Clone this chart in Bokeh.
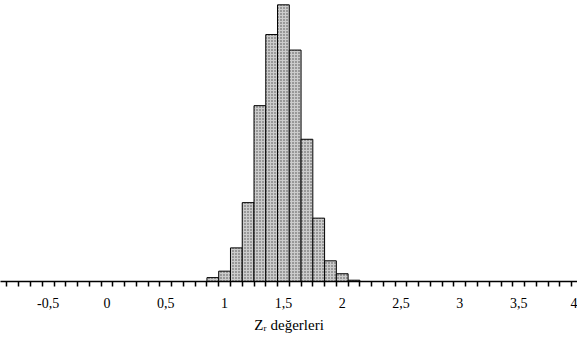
import numpy as np
from bokeh.plotting import figure
from bokeh.models import FixedTicker, CustomJSTickFormatter, Range1d
from bokeh.embed import file_html
from bokeh.resources import INLINE

# Histogram of Zr values (bin centres and frequencies)
bin_centers = [0.9, 1.0, 1.1, 1.2, 1.3, 1.4, 1.5, 1.6, 1.7, 1.8, 1.9, 2.0, 2.1]
frequencies = [3, 8, 26, 61, 136, 191, 214, 179, 110, 49, 16, 6, 1]
bin_width = 0.1

tick_values = [-0.5, 0.0, 0.5, 1.0, 1.5, 2.0, 2.5, 3.0, 3.5, 4.0]
tick_labels = ["-0,5", "0", "0,5", "1", "1,5", "2", "2,5", "3", "3,5", "4"]
axis_title = "Zᵣ değerleri"

x_start, x_end = -0.905, 4.0
edges = [round(v, 2) for v in np.arange(-0.85, 4.1, bin_width)]

p = figure(width=577, height=344, output_backend="svg", toolbar_location=None,
           x_range=Range1d(x_start, x_end), y_range=Range1d(0, max(frequencies) * 1.0156),
           min_border_left=0, min_border_right=0, min_border_top=0, min_border_bottom=63)

p.vbar(x=bin_centers, width=bin_width, top=frequencies, bottom=0,
       fill_color="#cccccc", line_color="black", line_width=1,
       hatch_pattern="dot", hatch_color="#4a4a4a", hatch_scale=3, hatch_weight=1)

p.yaxis.visible = False
p.grid.visible = False
p.outline_line_color = None
p.background_fill_color = "white"
p.border_fill_color = "white"

ax = p.xaxis[0]
ax.ticker = FixedTicker(ticks=tick_values, minor_ticks=edges)
ax.formatter = CustomJSTickFormatter(args=dict(vals=tick_values, labs=tick_labels), code="""
const i = vals.findIndex(v => Math.abs(v - tick) < 1e-6);
return i >= 0 ? labs[i] : '';
""")
ax.axis_line_color = "black"
ax.axis_line_width = 1.6
ax.major_tick_out = 0
ax.major_tick_in = 0
ax.minor_tick_out = 5
ax.minor_tick_in = 0
ax.minor_tick_line_color = "black"
ax.minor_tick_line_width = 1.5
ax.major_label_standoff = 11
ax.major_label_text_font = "Liberation Serif"
ax.major_label_text_font_size = "14px"
ax.major_label_text_color = "black"
ax.axis_label = axis_title
ax.axis_label_standoff = 6
ax.axis_label_text_font = "Liberation Serif"
ax.axis_label_text_font_size = "15px"
ax.axis_label_text_font_style = "normal"
ax.axis_label_text_color = "black"

open("out.html", "w").write(file_html(p, INLINE))
